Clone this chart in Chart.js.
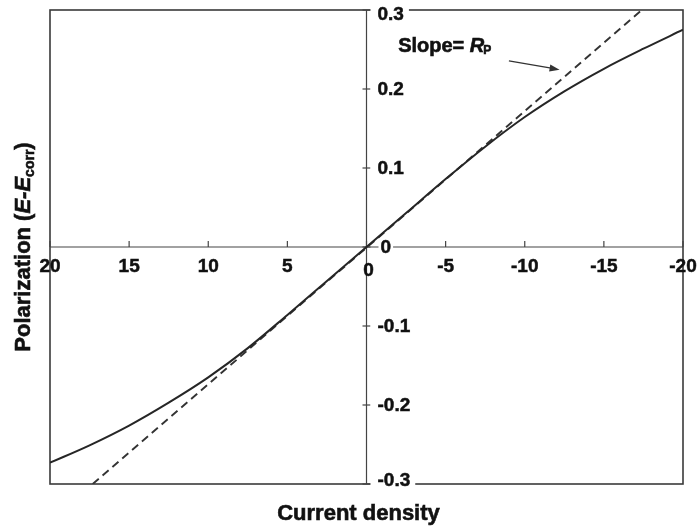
<!DOCTYPE html>
<html><head><meta charset="utf-8">
<script src="https://cdn.jsdelivr.net/npm/chart.js@4.4.1/dist/chart.umd.min.js"></script>
<style>html,body{margin:0;padding:0;background:#fff}#wrap{width:700px;height:526px}</style>
</head><body><div id="wrap"><canvas id="c" width="700" height="526"></canvas></div>
<script>
// ---- data ----
const xTicks = [20, 15, 10, 5, 0, -5, -10, -15, -20];
const yTicks = [0.3, 0.2, 0.1, 0, -0.1, -0.2, -0.3];
const currentDensity = [20, 17.5, 15, 12.5, 10, 7.5, 5, 2.5, 0, -2.5, -5, -7.5, -10, -12.5, -15, -17.5, -20];
const polarization = [-0.273, -0.251, -0.226, -0.197, -0.165, -0.128, -0.086, -0.043, 0, 0.043, 0.086, 0.127, 0.1645, 0.197, 0.2256, 0.251, 0.275];
const slopeLineX = [17.3, -17.4];
const slopeLineY = [-0.3, 0.3];
const xTitle = 'Current density';
const yTitleParts = ['Polarization (', 'E-E', 'corr', ')'];
const annotationParts = ['Slope= ', 'R', 'P'];
const annotationAt = [-2.0, 0.247];
const arrowFrom = [-9.0, 0.2355];
const arrowTo = [-12.2, 0.2245];

const FONT = '"Liberation Sans", Arial, Helvetica, sans-serif';
const INK = '#262626';

function boldText(ctx, t, x, y) {
  ctx.fillText(t, x, y);
  ctx.strokeText(t, x, y);
}

const decor = {
  id: 'decor',
  beforeDatasetsDraw(chart) {
    const {ctx, chartArea: a, scales: {x, y}} = chart;
    const px0 = x.getPixelForValue(0), py0 = y.getPixelForValue(0);
    ctx.save();
    // frame
    ctx.strokeStyle = '#3a3a3a'; ctx.lineWidth = 1.6;
    ctx.strokeRect(a.left, a.top, a.right - a.left, a.bottom - a.top);
    // centre axes
    ctx.lineWidth = 1.2; ctx.strokeStyle = '#444';
    ctx.beginPath();
    ctx.moveTo(a.left, py0); ctx.lineTo(a.right, py0);
    ctx.moveTo(px0, a.top); ctx.lineTo(px0, a.bottom);
    ctx.stroke();
    // x ticks + labels
    ctx.font = 'bold 19px ' + FONT; ctx.fillStyle = '#111';
    ctx.textAlign = 'center'; ctx.textBaseline = 'middle';
    xTicks.forEach(v => {
      const px = x.getPixelForValue(v);
      ctx.strokeStyle = '#444'; ctx.lineWidth = 1.2;
      ctx.beginPath(); ctx.moveTo(px, py0 - 6); ctx.lineTo(px, py0); ctx.stroke();
      ctx.strokeStyle = '#111'; ctx.lineWidth = 0.5;
      if (v === 0) boldText(ctx, '0', px + 2, py0 + 24);
      else boldText(ctx, String(v), px, py0 + 20);
    });
    // y ticks + labels
    ctx.textAlign = 'left';
    yTicks.forEach(v => {
      const py = y.getPixelForValue(v);
      ctx.strokeStyle = '#444'; ctx.lineWidth = 1.2;
      ctx.beginPath(); ctx.moveTo(px0 - 4, py); ctx.lineTo(px0 + 4, py); ctx.stroke();
      const t = v === 0 ? '0' : String(v);
      const w = ctx.measureText(t).width;
      const ly = Math.min(Math.max(py + 1, a.top + 5), a.bottom - 3);
      const lx = v === 0 ? px0 + 14 : px0 + 11;
      ctx.fillStyle = '#fff';
      if (v === 0) ctx.fillRect(lx - 2, ly - 8, w + 4, 16);
      else ctx.fillRect(lx - 7, ly - 9, w + 12, 18);
      ctx.fillStyle = '#111'; ctx.strokeStyle = '#111'; ctx.lineWidth = 0.5;
      boldText(ctx, t, lx, ly);
    });
    ctx.restore();
  },
  afterDraw(chart) {
    const {ctx, chartArea: a, scales: {x, y}} = chart;
    ctx.save();
    ctx.fillStyle = '#111'; ctx.strokeStyle = '#111'; ctx.lineWidth = 0.6;
    // x title
    ctx.font = 'bold 22px ' + FONT; ctx.textAlign = 'center'; ctx.textBaseline = 'alphabetic';
    boldText(ctx, xTitle, (a.left + a.right) / 2 - 8, 520);
    // y title (rotated, mixed styles)
    const big = 'bold 22px ' + FONT, ital = 'italic bold 22px ' + FONT, sub = 'bold 14px ' + FONT;
    const pieces = [[yTitleParts[0], big, 0], [yTitleParts[1], ital, 0], [yTitleParts[2], sub, 4], [yTitleParts[3], big, 0]];
    let total = 0;
    pieces.forEach(p => { ctx.font = p[1]; total += ctx.measureText(p[0]).width; });
    ctx.translate(30, (a.top + a.bottom) / 2);
    ctx.rotate(-Math.PI / 2);
    ctx.textAlign = 'left';
    let cx = -total / 2;
    pieces.forEach(p => { ctx.font = p[1]; boldText(ctx, p[0], cx, p[2]); cx += ctx.measureText(p[0]).width; });
    ctx.setTransform(1, 0, 0, 1, 0, 0);
    // annotation
    let ax = x.getPixelForValue(annotationAt[0]), ay = y.getPixelForValue(annotationAt[1]);
    ctx.textAlign = 'left';
    ctx.font = 'bold 20px ' + FONT; boldText(ctx, annotationParts[0], ax, ay); ax += ctx.measureText(annotationParts[0]).width;
    ctx.font = 'italic bold 20px ' + FONT; boldText(ctx, annotationParts[1], ax, ay); ax += ctx.measureText(annotationParts[1]).width - 1;
    ctx.font = 'bold 12px ' + FONT; boldText(ctx, annotationParts[2], ax, ay + 2);
    // arrow
    const x1 = x.getPixelForValue(arrowFrom[0]), y1 = y.getPixelForValue(arrowFrom[1]);
    const x2 = x.getPixelForValue(arrowTo[0]), y2 = y.getPixelForValue(arrowTo[1]);
    const ang = Math.atan2(y2 - y1, x2 - x1);
    ctx.strokeStyle = '#333'; ctx.lineWidth = 1.3;
    ctx.beginPath(); ctx.moveTo(x1, y1); ctx.lineTo(x2 - 7 * Math.cos(ang), y2 - 7 * Math.sin(ang)); ctx.stroke();
    ctx.fillStyle = '#333';
    ctx.beginPath();
    ctx.moveTo(x2, y2);
    ctx.lineTo(x2 - 10 * Math.cos(ang) + 3.5 * Math.sin(ang), y2 - 10 * Math.sin(ang) - 3.5 * Math.cos(ang));
    ctx.lineTo(x2 - 10 * Math.cos(ang) - 3.5 * Math.sin(ang), y2 - 10 * Math.sin(ang) + 3.5 * Math.cos(ang));
    ctx.closePath(); ctx.fill();
    ctx.restore();
  }
};

new Chart(document.getElementById('c'), {
  type: 'scatter',
  data: {
    datasets: [
      {
        label: 'Measured polarization',
        data: currentDensity.map((v, i) => ({x: v, y: polarization[i]})),
        showLine: true, borderColor: INK, borderWidth: 2, pointRadius: 0,
        tension: 0.4, cubicInterpolationMode: 'monotone', fill: false
      },
      {
        label: 'Slope = Rp',
        data: slopeLineX.map((v, i) => ({x: v, y: slopeLineY[i]})),
        showLine: true, borderColor: '#333', borderWidth: 1.9, borderDash: [8, 5],
        pointRadius: 0, fill: false
      }
    ]
  },
  options: {
    responsive: false, animation: false, devicePixelRatio: 1,
    layout: {padding: {left: 50, right: 17, top: 10, bottom: 42}},
    plugins: {legend: {display: false}, tooltip: {enabled: false}},
    scales: {
      x: {type: 'linear', min: -20, max: 20, reverse: true, display: false, ticks: {stepSize: 5}},
      y: {type: 'linear', min: -0.3, max: 0.3, display: false, ticks: {stepSize: 0.1}}
    }
  },
  plugins: [decor]
});
</script>
</body></html>
